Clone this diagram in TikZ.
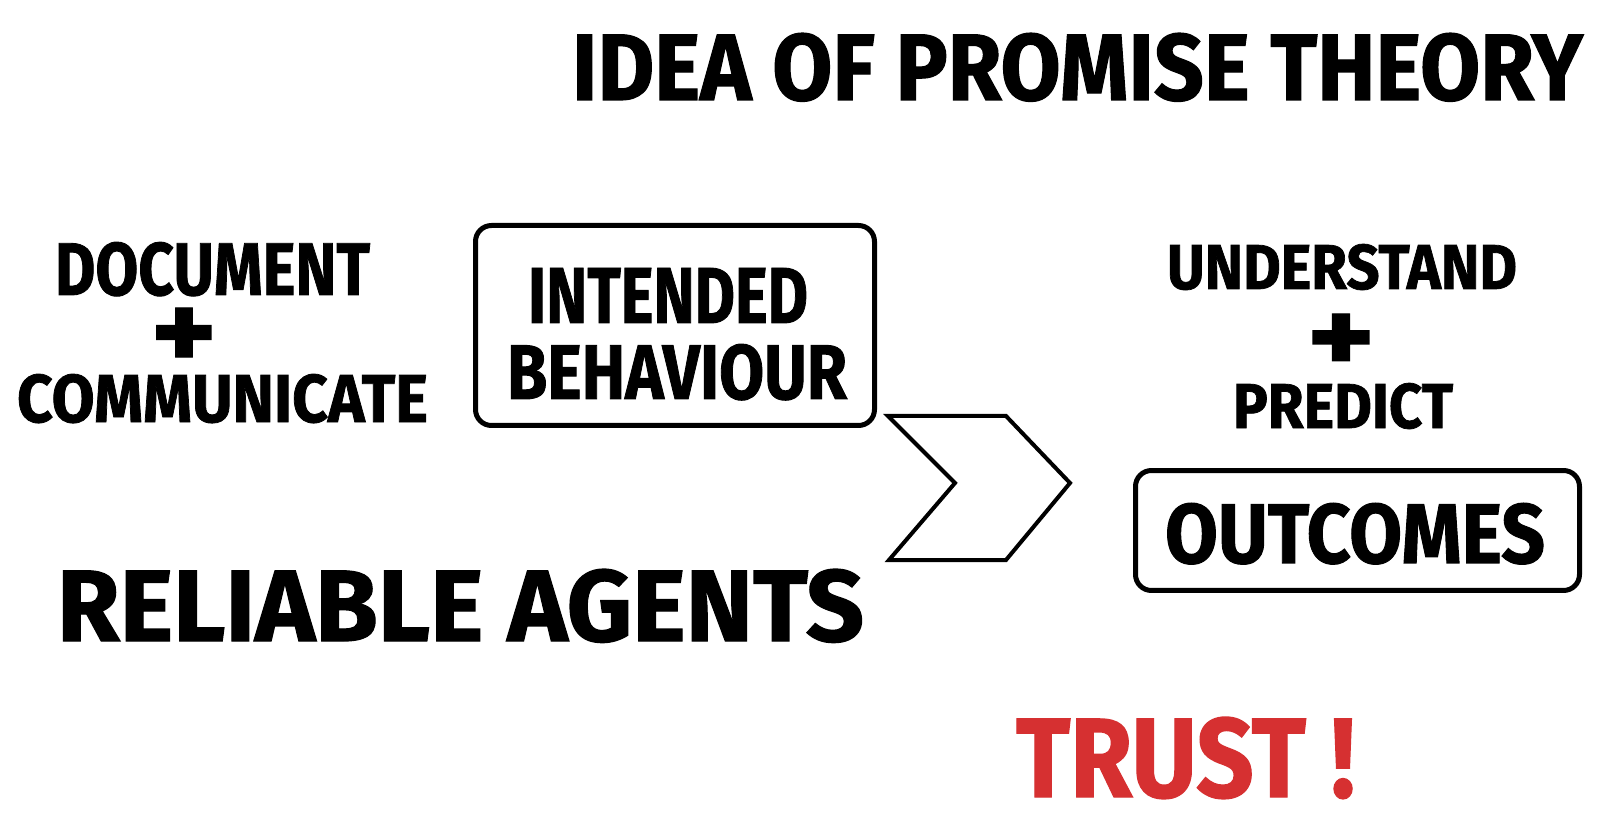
\documentclass[tikz,border=0pt]{standalone}
\usepackage{fontspec}
\setmainfont[BoldFeatures={FakeBold=1.2}]{Fira Sans}
\usepackage{graphicx}
\definecolor{trustred}{RGB}{214,48,49}
\newcommand{\fitt}[3]{\resizebox{#1mm}{#2mm}{#3}}
\tikzset{
  lbl/.style={anchor=base west, inner sep=0pt, outer sep=0pt, font=\bfseries},
  sketchbox/.style={draw, line width=0.5mm, rounded corners=1.6mm, inner sep=0pt, outer sep=0pt},
  chev/.style={draw, line width=0.4mm, line join=miter}
}
\begin{document}
\begin{tikzpicture}[x=0.1mm, y=-0.1mm]
\useasboundingbox[fill=white] (0,0) rectangle (1617,828);
% title
\node[lbl] (title) at (572,100) {\fitt{101.1}{6.7}{IDEA OF PROMISE THEORY}};
% left column
\node[lbl] (doc) at (55,295) {\fitt{31.5}{5.3}{DOCUMENT}};
\node[lbl] (plusL) at (151,370) {\fitt{6.6}{6.2}{+}};
\node[lbl] (comm) at (17,422) {\fitt{41.1}{4.8}{COMMUNICATE}};
% box 1
\node[sketchbox, minimum width=39.9mm, minimum height=20.0mm] (box1) at (675,325.5) {};
\node[lbl] (intended) at (528,323) {\fitt{28.0}{5.5}{INTENDED}};
\node[lbl] (behav) at (507,399) {\fitt{34.0}{5.5}{BEHAVIOUR}};
% chevron
\coordinate (c1) at (888,416);
\coordinate (c2) at (1006,416);
\coordinate (c3) at (1070,483);
\coordinate (c4) at (1006,560);
\coordinate (c5) at (889,560);
\coordinate (c6) at (955,483);
\draw[chev] (c1) -- (c2) -- (c3) -- (c4) -- (c5) -- (c6) -- cycle;
% reliable agents
\node[lbl] (reliable) at (57,641) {\fitt{80.7}{7.2}{RELIABLE AGENTS}};
% right column
\node[lbl] (under) at (1167,289) {\fitt{35.0}{4.5}{UNDERSTAND}};
\node[lbl] (plusR) at (1307,373) {\fitt{6.8}{5.9}{+}};
\node[lbl] (predict) at (1233,428) {\fitt{22.0}{4.5}{PREDICT}};
\node[sketchbox, minimum width=44.4mm, minimum height=12.0mm] (box2) at (1357.5,530.5) {};
\node[lbl] (outcomes) at (1165,563) {\fitt{38.0}{6.0}{OUTCOMES}};
% trust
\node[lbl, text=trustred] (trust) at (1016,797) {\fitt{33.9}{8.0}{TRUST\kern0.25em!}};
\end{tikzpicture}
\end{document}
